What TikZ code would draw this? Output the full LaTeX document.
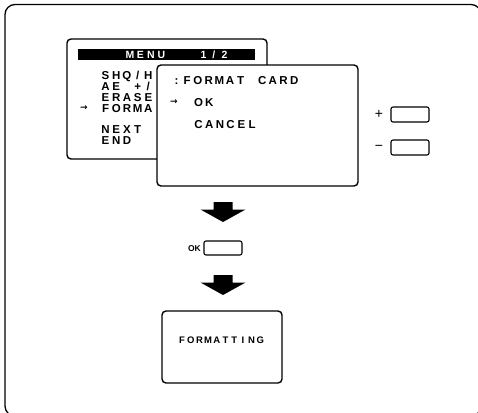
\documentclass[tikz,border=0pt]{standalone}
\usepackage{fontspec}
\setmainfont{Liberation Sans}
\newfontfamily\symfont{DejaVu Sans}

% fixed-width character cells, like the camera's LCD
\newlength\lcdw
\newcommand\lcd[2]{\setlength\lcdw{#1}\lcdloop#2\relax}
\def\lcdloop#1{\ifx#1\relax\else\makebox[\lcdw]{#1}\expandafter\lcdloop\fi}

\begin{document}
\begin{tikzpicture}[x=1pt, y=-1pt,
  screen/.style={line width=1.4pt, rounded corners=4pt, fill=white},
  key/.style={line width=1.1pt, rounded corners=2pt, fill=white},
  lcdtxt/.style={anchor=base west, inner sep=0pt, font=\bfseries\fontsize{11.5}{12}\selectfont},
  pointer/.style={inner sep=0pt, font=\symfont\bfseries\fontsize{9}{9}\selectfont}]

  \useasboundingbox (0,0) rectangle (478,412);

  % === Outer frame ===
  \draw[line width=1.3pt, rounded corners=10pt] (5,4.5) rectangle (481,416);

  % === Menu screen (back) ===
  \draw[screen] (67,39) rectangle (267,159);
  \fill (78,49) rectangle (255,60);
  \node[lcdtxt, text=white, font=\bfseries\fontsize{10.5}{11}\selectfont] (menutitle) at (124.5,58.3) {\lcd{10.5pt}{MENU~~~1/2}};
  \node[lcdtxt] (shq)      at (100,79.2)  {\lcd{10.7pt}{SHQ/H}};
  \node[lcdtxt] (aeplus)   at (100,90.2)  {\lcd{10.7pt}{AE~+/}};
  \node[lcdtxt] (erase)    at (100,101.2) {\lcd{10.7pt}{ERASE}};
  \node[lcdtxt] (forma)    at (100,112.2) {\lcd{10.7pt}{FORMA}};
  \node[lcdtxt] (nextitem) at (100,133.2) {\lcd{10.7pt}{NEXT}};
  \node[lcdtxt] (enditem)  at (100,144.2) {\lcd{10.7pt}{END}};
  \node[pointer] (menuarrow) at (84,108) {→};

  % === Format card screen (front) ===
  \draw[screen] (157,65) rectangle (358,186);
  \node[lcdtxt] (fmttitle)   at (171,84.2)  {\lcd{10.7pt}{:FORMAT~CARD}};
  \node[lcdtxt] (okitem)     at (193,106.2) {\lcd{10.7pt}{OK}};
  \node[lcdtxt] (cancelitem) at (193,128.2) {\lcd{10.7pt}{CANCEL}};
  \node[pointer] (fmtarrow) at (174,102) {→};

  % === +/- keys ===
  \node[inner sep=0pt, font=\fontsize{14}{14}\selectfont] (plus)  at (379,114) {+};
  \node[inner sep=0pt, font=\fontsize{14}{14}\selectfont] (minus) at (379,148) {−};
  \draw[key] (391,107) rectangle (429,122);
  \draw[key] (391,140) rectangle (429,155);

  % === Block arrows ===
  \foreach \y in {202,275}
    \fill (213.5,\y) -- (232.5,\y) -- (232.5,\y+7.5) -- (245.5,\y+7.5)
      -- (223,\y+20) -- (200.5,\y+7.5) -- (213.5,\y+7.5) -- cycle;

  % OK key
  \node[anchor=base east, inner sep=0pt, font=\bfseries\fontsize{8.5}{9}\selectfont] (oklabel) at (201,251.2) {OK};
  \draw[key] (204,241) rectangle (242,255);

  % === Formatting screen ===
  \draw[screen] (162,311) rectangle (282,383);
  \node[lcdtxt, font=\bfseries\fontsize{9.5}{10}\selectfont] (formatting) at (177.5,343.4) {\lcd{8.7pt}{FORMATTING}};

\end{tikzpicture}
\end{document}
